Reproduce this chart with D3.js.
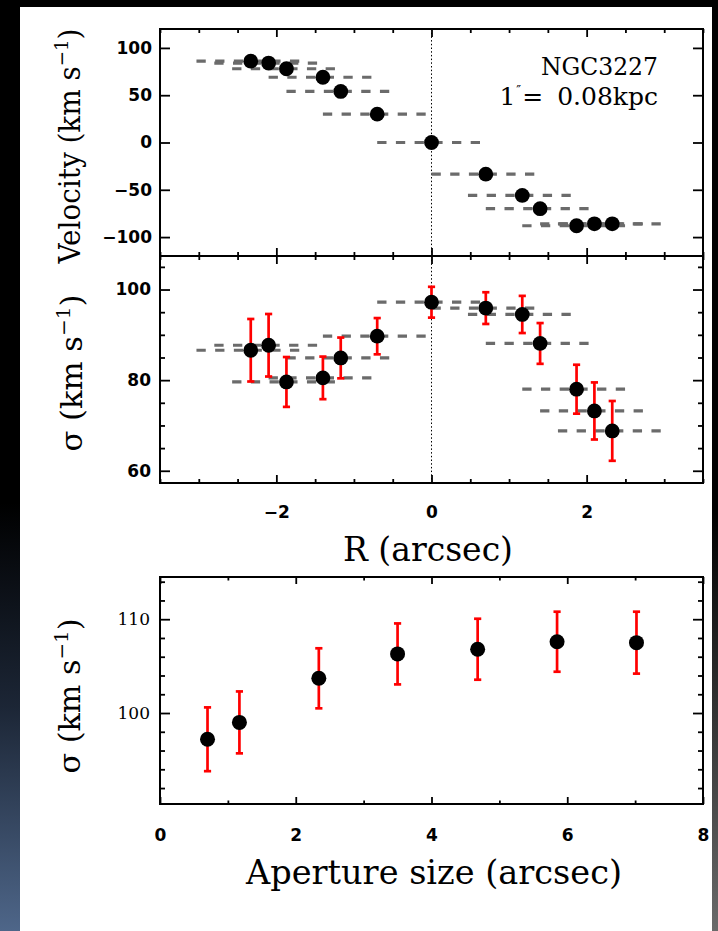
<!DOCTYPE html>
<html>
<head>
<meta charset="utf-8">
<script src="https://cdn.jsdelivr.net/npm/d3@7"></script>
<style>
  body { margin: 0; background: #fff; }
  svg { display: block; }
</style>
</head>
<body>
<script>
// NGC 3227 stellar kinematics along the slit, plus sigma vs. aperture size.

// Slit positions (arcsec) of the extracted spectra
const radius   = [-2.33, -2.10, -1.87, -1.40, -1.17, -0.70, 0.00, 0.70, 1.17, 1.40, 1.87, 2.10, 2.33];
// Spatial extent covered by each extraction bin (arcsec)
const binStart = [-3.03, -2.80, -2.57, -2.10, -1.87, -1.40, -0.70, 0.00, 0.47, 0.70, 1.17, 1.40, 1.63];
const binEnd   = [-1.63, -1.40, -1.17, -0.70, -0.47, 0.00, 0.70, 1.40, 1.87, 2.10, 2.57, 2.80, 3.03];
// Line-of-sight velocity (km/s)
const velocity = [86, 84, 78, 69, 54, 30, 0, -33.5, -56, -70, -88, -86, -86];
// Velocity dispersion (km/s) and its uncertainty
const sigma    = [86.6, 87.7, 79.6, 80.5, 84.9, 89.7, 97.2, 95.9, 94.5, 88.1, 78.0, 73.2, 68.8];
const sigmaErr = [6.9, 6.9, 5.5, 4.7, 4.5, 4.0, 3.4, 3.5, 4.1, 4.5, 5.4, 6.3, 6.6];

// Dispersion measured in growing apertures
const apertureSize  = [0.70, 1.17, 2.34, 3.50, 4.68, 5.85, 7.02];
const apertureSigma = [97.2, 99.0, 103.7, 106.3, 106.8, 107.6, 107.5];
const apertureErr   = [3.4, 3.3, 3.2, 3.25, 3.25, 3.2, 3.3];

// Axis ticks
const rTicks        = [-2, 0, 2];
const rMinorTicks   = [-3.5, -3, -2.5, -1.5, -1, -0.5, 0.5, 1, 1.5, 2.5, 3, 3.5];
const velTicks      = [-100, -50, 0, 50, 100];
const sigTicks      = [60, 80, 100];
const sigMinorTicks = [65, 70, 75, 85, 90, 95, 105];
const apTicks       = [0, 2, 4, 6, 8];
const apMinorTicks  = [1, 3, 5, 7];
const apSigTicks    = [100, 110];
const apSigMinor    = [92, 94, 96, 98, 102, 104, 106, 108, 112, 114];

const galaxyName = "NGC3227";
const scaleNote  = ["1", "″", "=", "0.08kpc"];

const W = 718, H = 931;
const svg = d3.select("body").append("svg").attr("width", W).attr("height", H);

// ---- page backdrop ----
const defs = svg.append("defs");
const lg = defs.append("linearGradient").attr("id", "leftEdge")
  .attr("x1", 0).attr("y1", 0).attr("x2", 0).attr("y2", 1);
lg.append("stop").attr("offset", "0").attr("stop-color", "#000");
lg.append("stop").attr("offset", "0.54").attr("stop-color", "#000");
lg.append("stop").attr("offset", "0.76").attr("stop-color", "#1c2636");
lg.append("stop").attr("offset", "1").attr("stop-color", "#4e6689");
const rg = defs.append("linearGradient").attr("id", "rightEdge")
  .attr("x1", 0).attr("y1", 0).attr("x2", 0).attr("y2", 1);
rg.append("stop").attr("offset", "0").attr("stop-color", "#000");
rg.append("stop").attr("offset", "0.55").attr("stop-color", "#000");
rg.append("stop").attr("offset", "1").attr("stop-color", "#6a6a6a");

svg.append("rect").attr("width", W).attr("height", H).attr("fill", "#fff");
svg.append("rect").attr("x", 0).attr("y", 0).attr("width", W).attr("height", 7).attr("fill", "#000");
svg.append("rect").attr("x", 0).attr("y", 0).attr("width", 20).attr("height", H).attr("fill", "url(#leftEdge)");
svg.append("rect").attr("x", 712).attr("y", 0).attr("width", W - 712).attr("height", H).attr("fill", "url(#rightEdge)");

// ---- layout ----
const left = 160, right = 703;
const p1 = { top: 29, bottom: 256 };
const p2 = { top: 256, bottom: 483 };
const p3 = { top: 577, bottom: 804 };

const x  = d3.scaleLinear().domain([-3.5, 3.5]).range([left, right]);
const yV = d3.scaleLinear().domain([-120, 120]).range([p1.bottom, p1.top]);
const yS = d3.scaleLinear().domain([57.3, 107.4]).range([p2.bottom, p2.top]);
const xA = d3.scaleLinear().domain([0, 8]).range([left, right]);
const yA = d3.scaleLinear().domain([90.3, 114.5]).range([p3.bottom, p3.top]);

const tickFont = "'DejaVu Sans', sans-serif";
const serif = "'DejaVu Serif', serif";
const ink = "#000";

function styleAxis(g, font, size, weight) {
  g.select(".domain").remove();
  g.selectAll(".tick line").attr("stroke", ink).attr("stroke-width", 1.8);
  g.selectAll(".tick text")
    .attr("fill", ink)
    .style("font-family", font)
    .style("font-size", size + "px")
    .style("font-weight", weight);
}

// Draws inward-pointing ticks on all four sides; labels only on left/bottom.
function frameAxes(xs, ys, box, o) {
  const fmt = d3.format("d");
  const none = () => "";
  const gx = svg.append("g");
  const add = (axis, tx, ty) => gx.append("g").attr("transform", `translate(${tx},${ty})`).call(axis);

  // x axes
  add(d3.axisBottom(xs).tickValues(o.xMajor).tickSize(-o.xMajLen)
        .tickPadding(o.xPad).tickFormat(o.xLabels ? fmt : none), 0, box.bottom)
    .call(g => styleAxis(g, o.xFont || tickFont, o.xSize || 17, o.xWeight || "bold"));
  add(d3.axisBottom(xs).tickValues(o.xMinor).tickSize(-o.xMinLen).tickFormat(none), 0, box.bottom)
    .call(g => styleAxis(g, tickFont, 17, "bold"));
  add(d3.axisTop(xs).tickValues(o.xMajor).tickSize(-o.xMajLen).tickFormat(none), 0, box.top)
    .call(g => styleAxis(g, tickFont, 17, "bold"));
  add(d3.axisTop(xs).tickValues(o.xMinor).tickSize(-o.xMinLen).tickFormat(none), 0, box.top)
    .call(g => styleAxis(g, tickFont, 17, "bold"));

  // y axes
  add(d3.axisLeft(ys).tickValues(o.yMajor).tickSize(-o.yMajLen)
        .tickPadding(o.yPad).tickFormat(fmt), left, 0)
    .call(g => styleAxis(g, o.yFont || tickFont, o.ySize || 17, o.yWeight || "bold"));
  add(d3.axisRight(ys).tickValues(o.yMajor).tickSize(-o.yMajLen).tickFormat(none), right, 0)
    .call(g => styleAxis(g, tickFont, 17, "bold"));
  if (o.yMinor) {
    add(d3.axisLeft(ys).tickValues(o.yMinor).tickSize(-o.yMinLen).tickFormat(none), left, 0)
      .call(g => styleAxis(g, tickFont, 17, "bold"));
    add(d3.axisRight(ys).tickValues(o.yMinor).tickSize(-o.yMinLen).tickFormat(none), right, 0)
      .call(g => styleAxis(g, tickFont, 17, "bold"));
  }

  // frame
  svg.append("rect")
    .attr("x", left).attr("y", box.top)
    .attr("width", right - left).attr("height", box.bottom - box.top)
    .attr("fill", "none").attr("stroke", ink).attr("stroke-width", 2);
}

function zeroLine(box) {
  svg.append("line")
    .attr("x1", x(0)).attr("x2", x(0))
    .attr("y1", box.top).attr("y2", box.bottom)
    .attr("stroke", ink).attr("stroke-width", 1)
    .attr("stroke-dasharray", "1.5,2.2");
}

function binLines(yScale, values) {
  svg.append("g").selectAll("line").data(values).join("line")
    .attr("x1", (d, i) => x(binStart[i]))
    .attr("x2", (d, i) => x(binEnd[i]))
    .attr("y1", d => yScale(d)).attr("y2", d => yScale(d))
    .attr("stroke", "#6b6b6b").attr("stroke-width", 3.2)
    .attr("stroke-dasharray", "9.3,9.4");
}

function errorBars(xs, ys, xv, yv, ev) {
  const g = svg.append("g").attr("stroke", "#ff0000").attr("stroke-width", 2.7).attr("fill", "none");
  const cap = 3.6;
  yv.forEach((v, i) => {
    const cx = xs(xv[i]), lo = ys(v - ev[i]), hi = ys(v + ev[i]);
    g.append("line").attr("x1", cx).attr("x2", cx).attr("y1", lo).attr("y2", hi);
    g.append("line").attr("x1", cx - cap).attr("x2", cx + cap).attr("y1", lo).attr("y2", lo);
    g.append("line").attr("x1", cx - cap).attr("x2", cx + cap).attr("y1", hi).attr("y2", hi);
  });
}

function dots(xs, ys, xv, yv, r) {
  svg.append("g").selectAll("circle").data(yv).join("circle")
    .attr("cx", (d, i) => xs(xv[i])).attr("cy", d => ys(d))
    .attr("r", r).attr("fill", ink);
}

function yTitle(cx, cy, main, length) {
  const t = svg.append("text")
    .attr("transform", `translate(${cx},${cy}) rotate(-90)`)
    .attr("text-anchor", "middle")
    .style("font-family", serif).style("font-size", "29px").attr("fill", ink);
  t.append("tspan").text(main);
  t.append("tspan").attr("dy", -12).style("font-size", "19px").text("−1");
  t.append("tspan").attr("dy", 12).text(")");
  t.attr("textLength", length).attr("lengthAdjust", "spacingAndGlyphs");
}

// ---- panel 1: velocity ----
zeroLine(p1);
binLines(yV, velocity);
dots(x, yV, radius, velocity, 7.4);
frameAxes(x, yV, p1, {
  xMajor: rTicks, xMinor: rMinorTicks, xMajLen: 8, xMinLen: 4, xPad: 0, xLabels: false,
  yMajor: velTicks, yMajLen: 10, yPad: 8
});

svg.append("text").attr("x", 658).attr("y", 75).attr("text-anchor", "end")
  .style("font-family", serif).style("font-size", "24px").attr("fill", ink)
  .attr("textLength", 117).attr("lengthAdjust", "spacingAndGlyphs")
  .text(galaxyName);
const note = svg.append("text").attr("x", 658).attr("y", 105).attr("text-anchor", "end")
  .style("font-family", serif).style("font-size", "25px").attr("fill", ink);
note.append("tspan").text(scaleNote[0]);
note.append("tspan").attr("dy", -10).attr("dx", 1).style("font-size", "13px").text(scaleNote[1]);
note.append("tspan").attr("dy", 10).attr("dx", 1).text(scaleNote[2]);
note.append("tspan").attr("dx", 14).text(scaleNote[3]);

yTitle(80, 146, "Velocity (km s", 235);

// ---- panel 2: dispersion along the slit ----
zeroLine(p2);
binLines(yS, sigma);
errorBars(x, yS, radius, sigma, sigmaErr);
dots(x, yS, radius, sigma, 7.4);
frameAxes(x, yS, p2, {
  xMajor: rTicks, xMinor: rMinorTicks, xMajLen: 8, xMinLen: 4, xPad: 23, xLabels: true,
  yMajor: sigTicks, yMinor: sigMinorTicks, yMajLen: 10, yMinLen: 5, yPad: 9
});
yTitle(82, 373, "σ (km s", 157);

svg.append("text").attr("x", 428).attr("y", 561).attr("text-anchor", "middle")
  .style("font-family", serif).style("font-size", "33px").attr("fill", ink)
  .attr("textLength", 170).attr("lengthAdjust", "spacingAndGlyphs")
  .text("R (arcsec)");

// ---- panel 3: dispersion vs. aperture ----
errorBars(xA, yA, apertureSize, apertureSigma, apertureErr);
dots(xA, yA, apertureSize, apertureSigma, 7.5);
frameAxes(xA, yA, p3, {
  xMajor: apTicks, xMinor: apMinorTicks, xMajLen: 7, xMinLen: 3.5, xPad: 25, xLabels: true,
  yMajor: apSigTicks, yMinor: apSigMinor, yMajLen: 10, yMinLen: 5, yPad: 10,
  yFont: serif, ySize: 17, yWeight: "normal"
});
yTitle(80, 696, "σ (km s", 155);

svg.append("text").attr("x", 434).attr("y", 884).attr("text-anchor", "middle")
  .style("font-family", serif).style("font-size", "33px").attr("fill", ink)
  .attr("textLength", 376).attr("lengthAdjust", "spacingAndGlyphs")
  .text("Aperture size (arcsec)");
</script>
</body>
</html>
